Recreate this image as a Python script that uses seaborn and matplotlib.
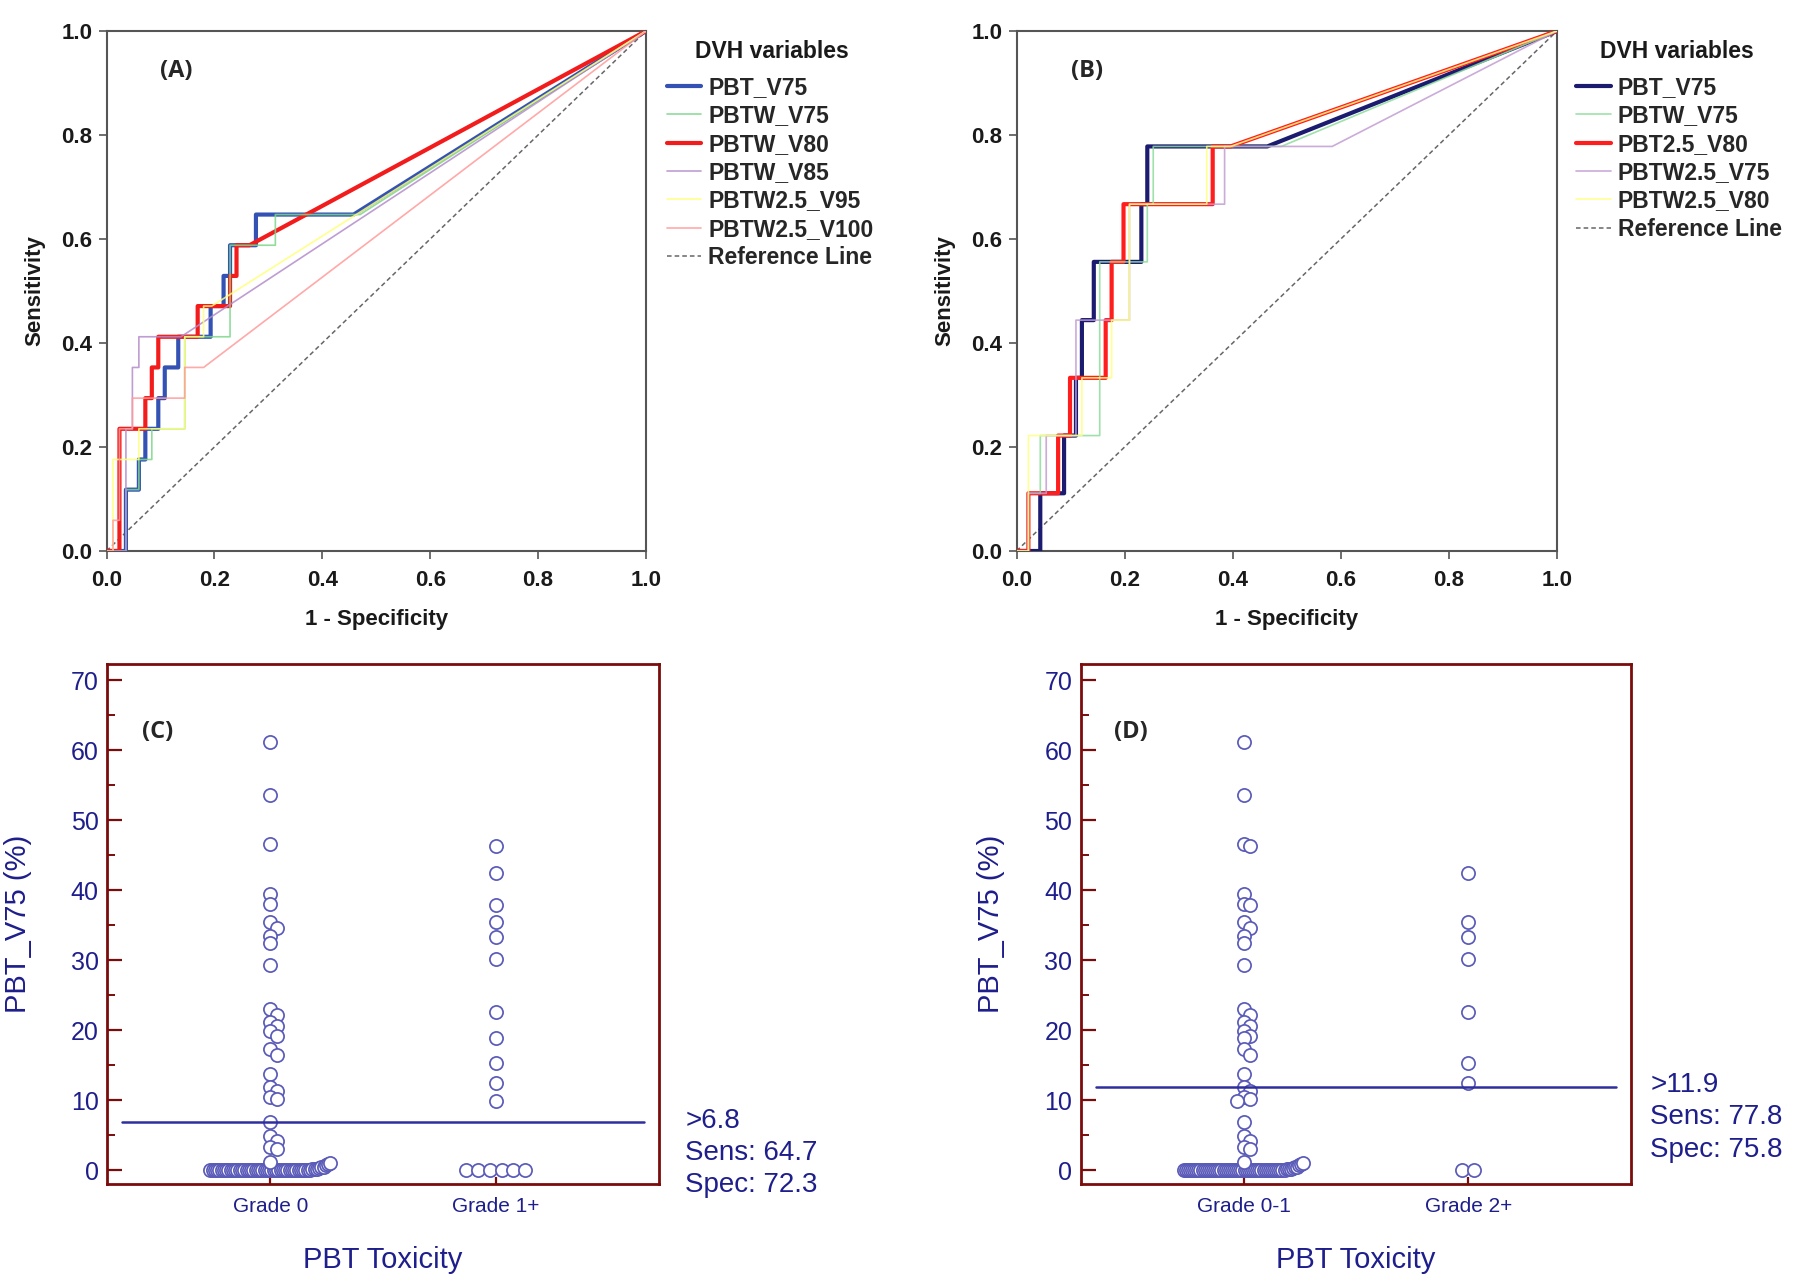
import numpy as np
import pandas as pd
import seaborn as sns
import matplotlib.pyplot as plt

# ---------------- ROC curves, panel A (Grade 1+ toxicity) ----------------
a_pbt_v75_x = [0, 0.036, 0.036, 0.060, 0.060, 0.072, 0.072, 0.096, 0.096, 0.108, 0.108, 0.133, 0.133,
               0.193, 0.193, 0.217, 0.217, 0.229, 0.229, 0.277, 0.277, 0.458, 1]
a_pbt_v75_y = [0, 0, 0.118, 0.118, 0.176, 0.176, 0.235, 0.235, 0.294, 0.294, 0.353, 0.353, 0.412,
               0.412, 0.471, 0.471, 0.529, 0.529, 0.588, 0.588, 0.647, 0.647, 1]
a_pbtw_v75_x = [0, 0.036, 0.036, 0.060, 0.060, 0.084, 0.084, 0.145, 0.145, 0.229, 0.229, 0.313, 0.313, 0.470, 1]
a_pbtw_v75_y = [0, 0, 0.118, 0.118, 0.176, 0.176, 0.235, 0.235, 0.412, 0.412, 0.588, 0.588, 0.647, 0.647, 1]
a_pbtw_v80_x = [0, 0.024, 0.024, 0.072, 0.072, 0.084, 0.084, 0.096, 0.096, 0.169, 0.169, 0.229, 0.229,
                0.241, 0.241, 0.265, 1]
a_pbtw_v80_y = [0, 0, 0.235, 0.235, 0.294, 0.294, 0.353, 0.353, 0.412, 0.412, 0.471, 0.471, 0.529,
                0.529, 0.588, 0.588, 1]
a_pbtw_v85_x = [0, 0.036, 0.036, 0.048, 0.048, 0.060, 0.060, 0.138, 1]
a_pbtw_v85_y = [0, 0, 0.235, 0.235, 0.353, 0.353, 0.412, 0.412, 1]
a_pbtw25_v95_x = [0, 0.012, 0.012, 0.060, 0.060, 0.145, 0.145, 0.180, 0.180, 0.195, 1]
a_pbtw25_v95_y = [0, 0, 0.176, 0.176, 0.235, 0.235, 0.412, 0.412, 0.471, 0.471, 1]
a_pbtw25_v100_x = [0, 0.012, 0.012, 0.024, 0.024, 0.048, 0.048, 0.145, 0.145, 0.180, 1]
a_pbtw25_v100_y = [0, 0, 0.059, 0.059, 0.235, 0.235, 0.294, 0.294, 0.353, 0.353, 1]

# ---------------- ROC curves, panel B (Grade 2+ toxicity) ----------------
b_pbt_v75_x = [0, 0.044, 0.044, 0.088, 0.088, 0.110, 0.110, 0.121, 0.121, 0.143, 0.143, 0.231, 0.231,
               0.242, 0.242, 0.464, 1]
b_pbt_v75_y = [0, 0, 0.111, 0.111, 0.222, 0.222, 0.333, 0.333, 0.444, 0.444, 0.556, 0.556, 0.667,
               0.667, 0.778, 0.778, 1]
b_pbtw_v75_x = [0, 0.022, 0.022, 0.044, 0.044, 0.154, 0.154, 0.242, 0.242, 0.253, 0.253, 0.490, 1]
b_pbtw_v75_y = [0, 0, 0.111, 0.111, 0.222, 0.222, 0.556, 0.556, 0.667, 0.667, 0.778, 0.778, 1]
b_pbt25_v80_x = [0, 0.022, 0.022, 0.077, 0.077, 0.099, 0.099, 0.165, 0.165, 0.176, 0.176, 0.198, 0.198,
                 0.363, 0.363, 0.396, 1]
b_pbt25_v80_y = [0, 0, 0.111, 0.111, 0.222, 0.222, 0.333, 0.333, 0.444, 0.444, 0.556, 0.556, 0.667,
                 0.667, 0.778, 0.778, 1]
b_pbtw25_v75_x = [0, 0.022, 0.022, 0.055, 0.055, 0.110, 0.110, 0.209, 0.209, 0.385, 0.385, 0.584, 1]
b_pbtw25_v75_y = [0, 0, 0.111, 0.111, 0.222, 0.222, 0.444, 0.444, 0.667, 0.667, 0.778, 0.778, 1]
b_pbtw25_v80_x = [0, 0.022, 0.022, 0.121, 0.121, 0.176, 0.176, 0.209, 0.209, 0.352, 0.352, 0.396, 1]
b_pbtw25_v80_y = [0, 0, 0.222, 0.222, 0.333, 0.333, 0.444, 0.444, 0.667, 0.667, 0.778, 0.778, 1]

ref_line = [0.0, 1.0]

# ---------------- PBT_V75 (%) per toxicity grade ----------------
grade0 = [61.1, 53.6, 46.6, 39.4, 38.0, 35.4, 34.6, 33.5, 32.4, 29.3, 23.0, 22.1, 21.2, 20.6, 19.9,
          19.1, 17.3, 16.5, 13.7, 11.9, 11.3, 10.5, 10.2, 6.8, 4.9, 4.1, 3.3, 3.0, 1.1, 1.0,
          0.9, 0.7, 0.5, 0.4, 0.3, 0.2, 0.2, 0.1] + [0.0] * 45
grade1 = [46.3, 37.9, 18.9, 9.8, 0.0, 0.0, 0.0, 0.0]
grade2_plus = [42.4, 35.4, 33.3, 30.1, 22.6, 15.3, 12.4, 0.0, 0.0]

c_labels = ['Grade 0', 'Grade 1+']
d_labels = ['Grade 0-1', 'Grade 2+']
cutoffs = [6.8, 11.9]
sens = [64.7, 77.8]
spec = [72.3, 75.8]

# colours
NAVY = '#1e1e8c'
FRAME = '#7a0c0c'
DOT = '#5a5ab8'
CUTLINE = '#2e2e9e'

sns.set_theme(style='white')
plt.rcParams['font.family'] = ['Liberation Sans', 'DejaVu Sans']

W, H = 1800, 1283
fig = plt.figure(figsize=(W / 100, H / 100), dpi=100)


def add_axes_px(l, t, r, b):
    return fig.add_axes([l / W, 1 - b / H, (r - l) / W, (b - t) / H])


ax_a = add_axes_px(106.5, 31, 646, 551)
ax_b = add_axes_px(1016.5, 31, 1557, 551)
ax_c = add_axes_px(107, 664, 659, 1184)
ax_d = add_axes_px(1080.7, 664, 1631, 1184)


def roc_panel(ax, curves, tag, leg_x, title_x):
    for name, xs, ys, color, lw in curves:
        sns.lineplot(x=xs, y=ys, sort=False, estimator=None, color=color, lw=lw,
                     label=name, ax=ax, zorder=3 if lw > 2 else 4,
                     alpha=1 if lw > 2 else 0.85)
    sns.lineplot(x=ref_line, y=ref_line, sort=False, estimator=None, color='#666666', lw=1.1,
                 ls=(0, (3, 2)), label='Reference Line', ax=ax, zorder=2)
    ax.set_xlim(0, 1)
    ax.set_ylim(0, 1)
    ticks = np.arange(0, 1.01, 0.2)
    ax.set_xticks(ticks)
    ax.set_yticks(ticks)
    ax.set_xticklabels([f'{t:.1f}' for t in ticks], fontweight='bold')
    ax.set_yticklabels([f'{t:.1f}' for t in ticks], fontweight='bold')
    ax.tick_params(bottom=True, left=True, direction='out', length=6, width=1.2,
                   color='#555555', labelsize=16, labelcolor='#1a1a1a')
    ax.tick_params(axis='x', pad=8)
    ax.tick_params(axis='y', pad=4)
    for s in ax.spines.values():
        s.set_color('#555555')
        s.set_linewidth(1.5)
    ax.set_xlabel('1 - Specificity', fontsize=16, fontweight='bold', labelpad=13, color='#1a1a1a')
    ax.set_ylabel('Sensitivity', fontsize=16, fontweight='bold', labelpad=12, color='#1a1a1a')
    ax.text(0.13, 0.923, tag, transform=ax.transAxes, ha='center', va='center',
            fontsize=17, fontweight='bold', family=['Open Sans', 'DejaVu Sans'])
    ax.text(title_x, 0.96, 'DVH variables', transform=ax.transAxes, ha='center', va='center',
            fontsize=16.5, fontweight='bold', color='#1a1a1a')
    ax.legend(loc='upper left', bbox_to_anchor=(leg_x, 0.913),
              frameon=False, prop={'weight': 'bold', 'size': 16.5},
              handlelength=1.5, handletextpad=0.3, labelspacing=0.23,
              borderpad=0, borderaxespad=0)


roc_panel(ax_a, [
    ('PBT_V75', a_pbt_v75_x, a_pbt_v75_y, '#3452b4', 3.0),
    ('PBTW_V75', a_pbtw_v75_x, a_pbtw_v75_y, '#7ed68a', 1.2),
    ('PBTW_V80', a_pbtw_v80_x, a_pbtw_v80_y, '#f21c1c', 3.0),
    ('PBTW_V85', a_pbtw_v85_x, a_pbtw_v85_y, '#b48ccb', 1.2),
    ('PBTW2.5_V95', a_pbtw25_v95_x, a_pbtw25_v95_y, '#ffff7a', 1.2),
    ('PBTW2.5_V100', a_pbtw25_v100_x, a_pbtw25_v100_y, '#ff9a9a', 1.2),
], '(A)', 1.039, 1.233)

roc_panel(ax_b, [
    ('PBT_V75', b_pbt_v75_x, b_pbt_v75_y, '#1b1b70', 3.0),
    ('PBTW_V75', b_pbtw_v75_x, b_pbtw_v75_y, '#8edc9c', 1.2),
    ('PBT2.5_V80', b_pbt25_v80_x, b_pbt25_v80_y, '#ff1e1e', 3.0),
    ('PBTW2.5_V75', b_pbtw25_v75_x, b_pbtw25_v75_y, '#c29cd2', 1.2),
    ('PBTW2.5_V80', b_pbtw25_v80_x, b_pbtw25_v80_y, '#ffff80', 1.2),
], '(B)', 1.036, 1.222)

# ---------------- dot plots ----------------
PX_PER_X = 225.0   # pixels per category step
PX_PER_Y = 7.0     # pixels per % unit
DOT_PX = 13.0
BAND_HALF_PX = 60.0


def dot_layout(values, center):
    v = np.sort(np.asarray(values, float))
    band = v[v < 1.05]
    rest = v[v >= 1.05][::-1]
    n = len(band)
    half = min(BAND_HALF_PX, (n - 1) * 0.9 * DOT_PX / 2) if n > 1 else 0.0
    xb = np.linspace(-half, half, n) if n > 1 else np.zeros(n)
    placed = [(x, y * PX_PER_Y) for x, y in zip(xb, band)]
    xr = []
    h = DOT_PX / 2
    for y in rest:
        yp = y * PX_PER_Y
        xc = 0.0
        for k in [0, 1, -1, 2, -2, 3, -3]:
            xc = k * h
            if all(np.hypot(xc - px, yp - py) >= 0.5 * DOT_PX for px, py in placed):
                break
        placed.append((xc, yp))
        xr.append(xc)
    xs = np.concatenate([xb, np.array(xr)]) / PX_PER_X + center
    ys = np.concatenate([band, rest])
    return xs, ys


def dot_panel(ax, groups, labels, cut, se, sp, tag, text_dx):
    frames = []
    for i, g in enumerate(groups):
        xs, ys = dot_layout(g, i)
        frames.append(pd.DataFrame({'x': xs, 'y': ys}))
    df = pd.concat(frames, ignore_index=True)
    sns.scatterplot(data=df, x='x', y='y', s=90, color='white', edgecolor=DOT,
                    linewidth=1.25, ax=ax, zorder=3, legend=False)
    ax.axhline(cut, xmin=0.028, xmax=0.972, color=CUTLINE, lw=1.8, zorder=4)
    ax.set_xlim(-0.725, 1.725)
    ax.set_ylim(-2.0, 72.3)
    ax.set_xticks([0, 1])
    ax.set_xticklabels(labels)
    ax.set_yticks(np.arange(0, 71, 10))
    ax.set_yticks(np.arange(5, 70, 10), minor=True)
    ax.tick_params(axis='y', which='major', left=True, direction='in', length=10.5, width=1.6,
                   color=FRAME, labelcolor=NAVY, labelsize=18, pad=6)
    ax.tick_params(axis='y', which='minor', left=True, direction='in', length=5.5, width=1.4,
                   color=FRAME)
    ax.tick_params(axis='x', bottom=True, direction='in', length=5, width=1.6,
                   color=FRAME, labelcolor=NAVY, labelsize=15, pad=9)
    for s in ax.spines.values():
        s.set_color(FRAME)
        s.set_linewidth(2.0)
    ax.set_xlabel('PBT Toxicity', fontsize=21, color=NAVY, labelpad=22)
    ax.set_ylabel('PBT_V75 (%)', fontsize=21, color=NAVY, labelpad=28)
    ax.text(0.092, 0.869, tag, transform=ax.transAxes, ha='center', va='center',
            fontsize=17, fontweight='bold', family=['Open Sans', 'DejaVu Sans'])
    ax.annotate(f'>{cut}\nSens: {se}\nSpec: {sp}', xy=(1, cut),
                xycoords=('axes fraction', 'data'), xytext=(text_dx, -22),
                textcoords='offset points', ha='left', va='center', fontsize=20,
                color=NAVY, linespacing=1.32, annotation_clip=False)


dot_panel(ax_c, [grade0, grade1 + grade2_plus], c_labels, cutoffs[0], sens[0], spec[0], '(C)', 19)
dot_panel(ax_d, [grade0 + grade1, grade2_plus], d_labels, cutoffs[1], sens[1], spec[1], '(D)', 14)

fig.savefig('out.png', dpi=100)
